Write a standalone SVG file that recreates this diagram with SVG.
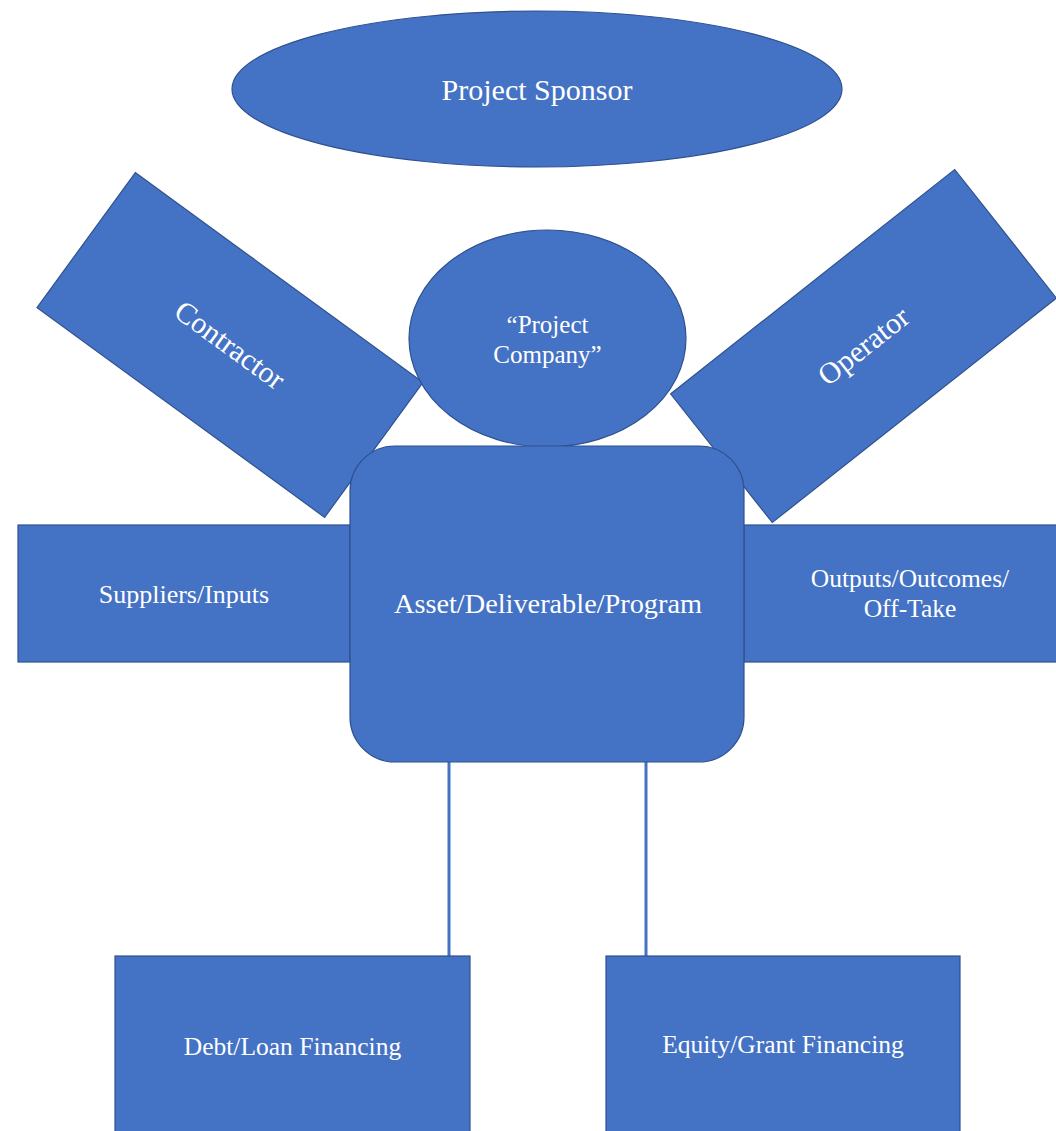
<svg xmlns="http://www.w3.org/2000/svg" width="1056" height="1131" viewBox="0 0 1056 1131">
<style>
.shape{fill:#4472C4;stroke:#2F528F;stroke-width:1.2}
.lbl{fill:#FFFFFF;font-family:"Liberation Serif","Times New Roman",serif;text-anchor:middle}
.conn{stroke:#4472C4;stroke-width:3;fill:none}
</style>
<rect width="1056" height="1131" fill="#FFFFFF"/>
<g id="connectors">
<line class="conn" x1="449" y1="760" x2="449" y2="957"/>
<line class="conn" x1="646" y1="760" x2="646" y2="957"/>
</g>
<g id="project-sponsor">
<ellipse class="shape" cx="537" cy="89" rx="305" ry="78"/>
<text class="lbl" x="537" y="100" font-size="30">Project Sponsor</text>
</g>
<g id="contractor">
<g transform="translate(230,345) rotate(36.1)">
<rect class="shape" x="-178" y="-83.5" width="356" height="167"/>
<text class="lbl" x="0" y="10" font-size="30">Contractor</text>
</g>
</g>
<g id="operator">
<g transform="translate(863.5,346) rotate(-38.3)">
<rect class="shape" x="-181" y="-82" width="362" height="164"/>
<text class="lbl" x="0" y="10" font-size="30">Operator</text>
</g>
</g>
<g id="project-company">
<ellipse class="shape" cx="547.5" cy="338.5" rx="138.5" ry="108.5"/>
<text class="lbl" x="547.5" y="333" font-size="25">“Project</text>
<text class="lbl" x="547.5" y="363" font-size="25">Company”</text>
</g>
<g id="suppliers">
<rect class="shape" x="18" y="525" width="332" height="137"/>
<text class="lbl" x="184" y="603" font-size="26">Suppliers/Inputs</text>
</g>
<g id="outputs">
<rect class="shape" x="744" y="525" width="332" height="137"/>
<text class="lbl" x="910" y="587" font-size="25.5">Outputs/Outcomes/</text>
<text class="lbl" x="910" y="617" font-size="25.5">Off-Take</text>
</g>
<g id="asset">
<rect class="shape" x="350" y="446" width="394" height="316" rx="45" ry="45"/>
<text class="lbl" x="548" y="613" font-size="28.3">Asset/Deliverable/Program</text>
</g>
<g id="debt">
<rect class="shape" x="115" y="956" width="355" height="185"/>
<text class="lbl" x="292.5" y="1055" font-size="25.5">Debt/Loan Financing</text>
</g>
<g id="equity">
<rect class="shape" x="606" y="956" width="354" height="185"/>
<text class="lbl" x="783" y="1053" font-size="25.5">Equity/Grant Financing</text>
</g>
</svg>
